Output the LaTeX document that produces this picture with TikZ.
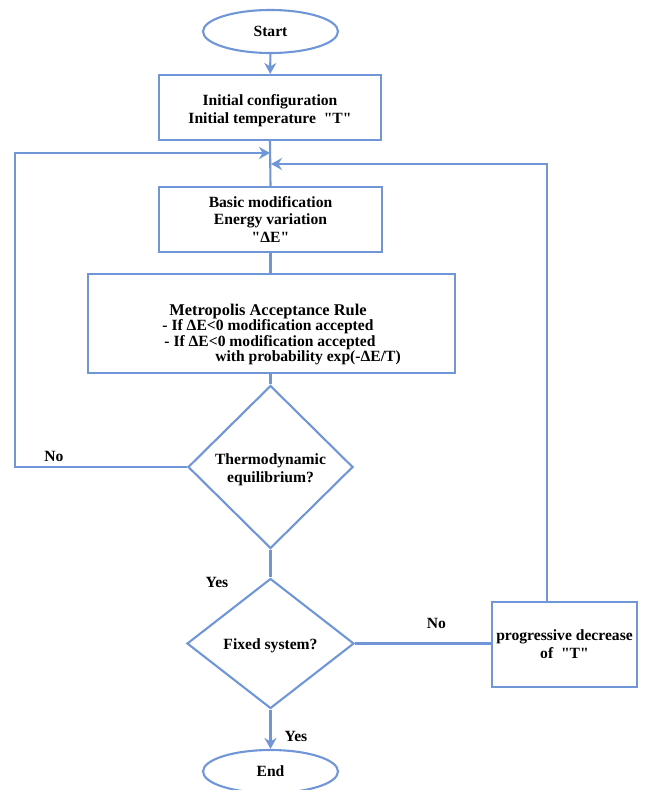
\documentclass[tikz,border=0pt]{standalone}
\usepackage{fontspec}
\setmainfont{Liberation Serif}[Ligatures=TeXOff]
\usetikzlibrary{shapes.geometric,arrows.meta}
\definecolor{fc}{RGB}{112,150,215}
\newcommand\dq{"}
\tikzset{
  base/.style={draw=fc, line width=2.1pt, inner sep=0pt, align=center,
    font=\fontsize{15.6}{17.7}\selectfont\bfseries},
  boxn/.style={base, rectangle},
  ovaln/.style={base, ellipse, minimum width=135pt, minimum height=43pt},
  diam/.style={base, diamond},
  conn/.style={draw=fc, line width=2.1pt},
  arr/.style={conn, -{Stealth[length=11pt,width=12pt]}},
  lbl/.style={font=\fontsize{15.6}{17.7}\selectfont\bfseries, inner sep=0pt, align=center}
}
\begin{document}
\begin{tikzpicture}[x=1pt,y=-1pt]
\useasboundingbox (0,0) rectangle (645,790);
\clip (0,0) rectangle (645,790);
\fill[white] (0,0) rectangle (645,790);

\node[ovaln] (start) at (270.5,31.5) {Start};
\node[boxn, minimum width=222pt, minimum height=65pt] (box1) at (270,107.5) {};
\node[lbl] (box1t) at (270,110.5) {Initial configuration\\ Initial temperature\ \ \dq T\dq};
\node[boxn, minimum width=223pt, minimum height=65pt] (box2) at (270.5,219.5)
  {Basic modification\\ Energy variation\\ \dq ΔE\dq};
\node[boxn, minimum width=367pt, minimum height=99pt] (box3) at (271.5,323.5) {};
\node[lbl, font=\fontsize{15.6}{15.5}\selectfont\bfseries] (box3t) at (268,334.5)
  {\fontsize{16.4}{15.5}\selectfont Metropolis Acceptance Rule\\
   - If ΔE<0 modification accepted\\
   \ - If ΔE<0 modification accepted\\
   \hspace*{80pt}with probability exp(-ΔE/T)};
\node[diam, minimum width=165pt, minimum height=163pt] (d1) at (270.5,467) {};
\node[lbl] (d1t) at (270.5,470) {Thermodynamic\\ equilibrium?};
\node[diam, minimum width=167pt, minimum height=130pt] (d2) at (270.5,643.5) {};
\node[lbl] (d2t) at (270.5,645.5) {Fixed system?};
\node[boxn, minimum width=145pt, minimum height=85pt] (box4) at (564.5,644.5)
  {progressive decrease\\ of\ \ \dq T\dq};
\node[ovaln] (end) at (270.5,771.5) {End};

\coordinate (j1) at (270,153);
\coordinate (j2) at (271,164);
\coordinate (lt) at (15,153);
\coordinate (rt) at (547,164);

\draw[arr] (start) -- (box1);
\draw[conn] (box1.south) -- (box2.north);
\draw[arr] (d1.west) -| (lt) -- (j1);
\draw[arr] (rt |- box4.north) -- (rt) -- (j2);
\draw[conn] (box2.south) -- (box2.south |- box3.north);
\draw[conn] (d1.north |- box3.south) -- (d1.north);
\draw[conn] (d1.south) -- (d2.north);
\draw[conn] (d2.east) -- (d2.east -| box4.west);
\draw[arr] (d2.south) -- (end);

\node[lbl] (no1) at (54,456) {No};
\node[lbl] (yes1) at (217,582) {Yes};
\node[lbl] (no2) at (436.5,623.5) {No};
\node[lbl] (yes2) at (296,736) {Yes};
\end{tikzpicture}
\end{document}
